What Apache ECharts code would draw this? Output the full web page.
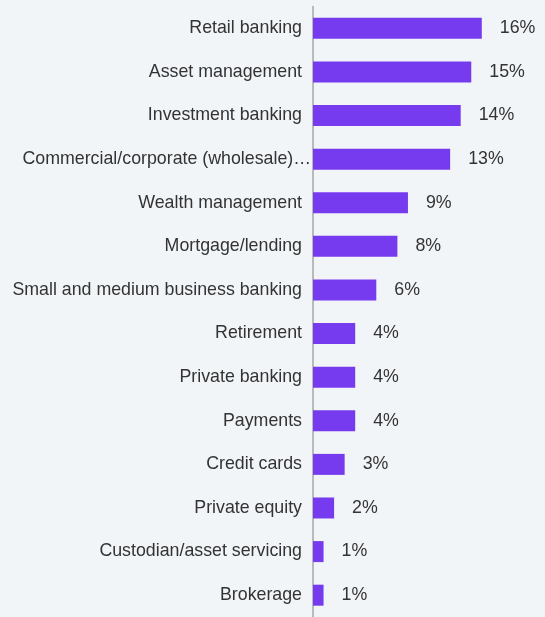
<!DOCTYPE html>
<html>
<head>
<meta charset="utf-8">
<script src="https://cdn.jsdelivr.net/npm/echarts@6/dist/echarts.min.js"></script>
<style>
  html, body { margin: 0; padding: 0; background: #f2f5f8; }
  #chart { width: 545px; height: 617px; }
</style>
</head>
<body>
<div id="chart"></div>
<script>
// Business lines, top to bottom
const categories = [
  'Retail banking',
  'Asset management',
  'Investment banking',
  'Commercial/corporate (wholesale)…',
  'Wealth management',
  'Mortgage/lending',
  'Small and medium business banking',
  'Retirement',
  'Private banking',
  'Payments',
  'Credit cards',
  'Private equity',
  'Custodian/asset servicing',
  'Brokerage'
];

// Share of respondents, percent
const shares = [16, 15, 14, 13, 9, 8, 6, 4, 4, 4, 3, 2, 1, 1];

const FONT = '"Liberation Sans", Arial, sans-serif';

// The truncated label runs slightly past the others, up to the axis line
const categoryItems = categories.map(name =>
  name.endsWith('…')
    ? { value: name, textStyle: { padding: [0, -9, 0, 0] } }
    : name
);

const chart = echarts.init(document.getElementById('chart'), null, { renderer: 'canvas' });

chart.setOption({
  backgroundColor: '#f2f5f8',
  animation: false,
  textStyle: { fontFamily: FONT },
  grid: { left: 313, right: 21, top: 6.5, bottom: -1.4, containLabel: false },
  xAxis: {
    type: 'value',
    min: 0,
    max: 20,
    show: false
  },
  yAxis: {
    type: 'category',
    data: categoryItems,
    inverse: true,
    axisLine: { show: true, lineStyle: { color: '#a6a6a6', width: 1.5 } },
    axisTick: { show: false },
    axisLabel: {
      margin: 11,
      fontSize: 17.8,
      color: '#333333',
      fontFamily: FONT
    }
  },
  series: [{
    type: 'bar',
    data: shares,
    barWidth: 21,
    itemStyle: { color: '#763bef' },
    label: {
      show: true,
      position: 'right',
      distance: 18,
      fontSize: 17.8,
      color: '#333333',
      fontFamily: FONT,
      formatter: p => p.value + '%'
    }
  }]
});
</script>
</body>
</html>
